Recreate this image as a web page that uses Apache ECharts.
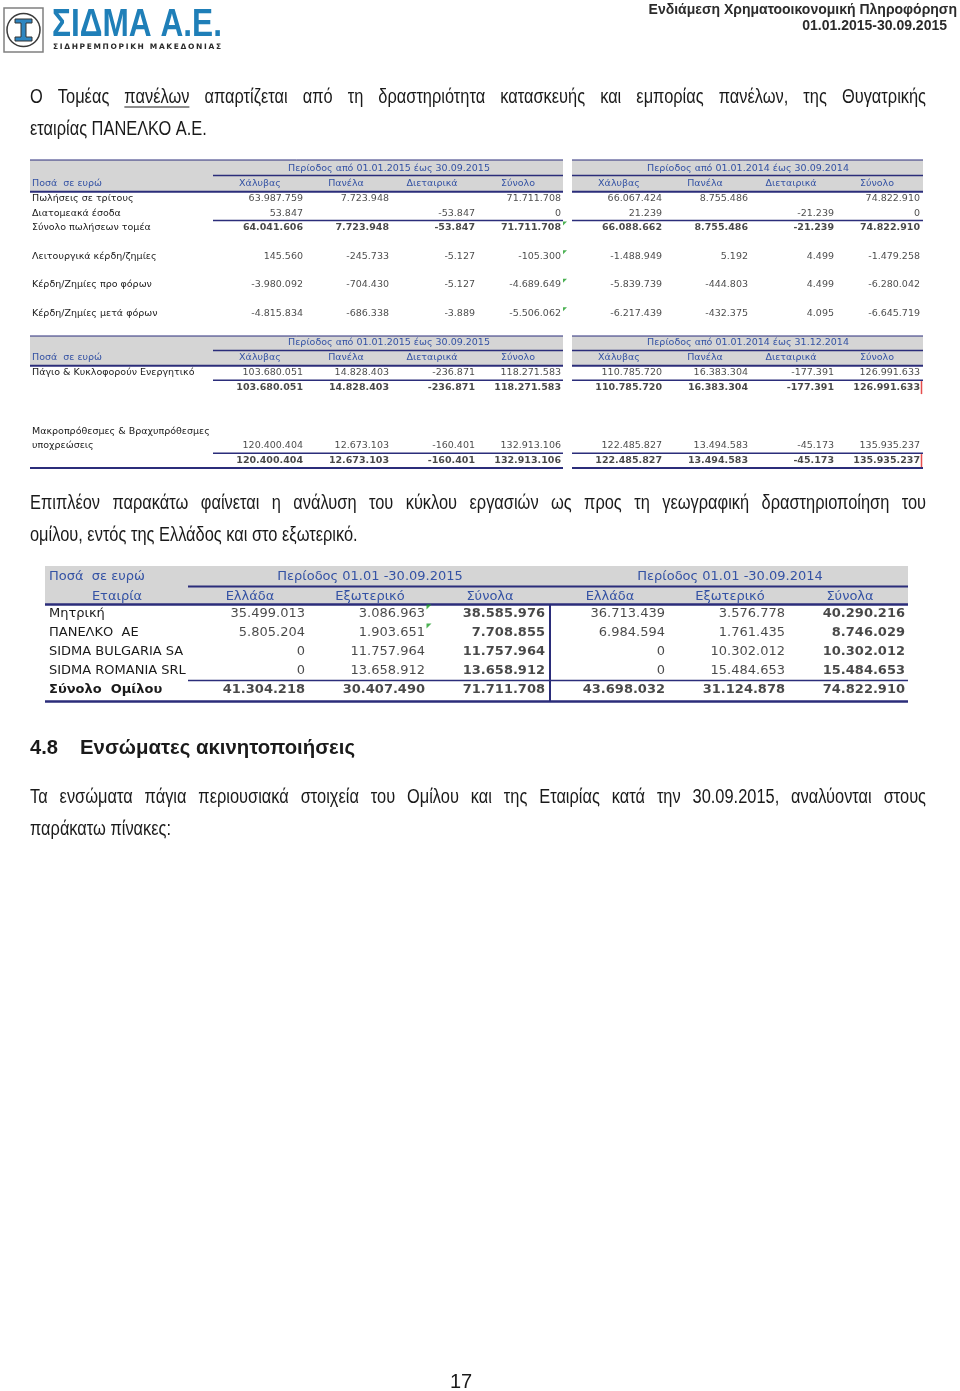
<!DOCTYPE html>
<html>
<head>
<meta charset="utf-8">
<script src="https://cdn.jsdelivr.net/npm/echarts@6.0.0/dist/echarts.min.js"></script>
<style>
html,body{margin:0;padding:0;background:#fff;}
#page{width:960px;height:1391px;}
</style>
</head>
<body>
<div id="page"></div>
<script>
// ---- table 1: segment results ----
var segCols = ['Χάλυβας', 'Πανέλα', 'Διεταιρικά', 'Σύνολο'];
var segRows = ['Πωλήσεις σε τρίτους', 'Διατομεακά έσοδα', 'Σύνολο πωλήσεων τομέα', ' ',
  'Λειτουργικά κέρδη/ζημίες', '  ', 'Κέρδη/Ζημίες προ φόρων', '   ', 'Κέρδη/Ζημίες μετά φόρων'];
var seg2015 = [
  [63987759, 7723948, null, 71711708],
  [53847, null, -53847, 0],
  [64041606, 7723948, -53847, 71711708],
  null,
  [145560, -245733, -5127, -105300],
  null,
  [-3980092, -704430, -5127, -4689649],
  null,
  [-4815834, -686338, -3889, -5506062]
];
var seg2014 = [
  [66067424, 8755486, null, 74822910],
  [21239, null, -21239, 0],
  [66088662, 8755486, -21239, 74822910],
  null,
  [-1488949, 5192, 4499, -1479258],
  null,
  [-5839739, -444803, 4499, -6280042],
  null,
  [-6217439, -432375, 4095, -6645719]
];
var segBoldRows = [2];
var segFlags = [[3, 2], [3, 4], [3, 6], [3, 8]];

// ---- table 2: assets / liabilities ----
var balRows = ['Πάγιο & Κυκλοφορούν Ενεργητικό', ' ', '  ', '   ',
  'Μακροπρόθεσμες & Βραχυπρόθεσμες', 'υποχρεώσεις', '    '];
var bal2015 = [
  [103680051, 14828403, -236871, 118271583],
  [103680051, 14828403, -236871, 118271583],
  null, null, null,
  [120400404, 12673103, -160401, 132913106],
  [120400404, 12673103, -160401, 132913106]
];
var bal2014 = [
  [110785720, 16383304, -177391, 126991633],
  [110785720, 16383304, -177391, 126991633],
  null, null, null,
  [122485827, 13494583, -45173, 135935237],
  [122485827, 13494583, -45173, 135935237]
];
var balBoldRows = [1, 6];
var balRedMarks = [[3, 1], [3, 6]];

// ---- table 3: sales by geography ----
var geoCols = ['Ελλάδα', 'Εξωτερικό', 'Σύνολα'];
var geoRows = ['Μητρική', 'ΠΑΝΕΛΚΟ  ΑΕ', 'SIDMA BULGARIA SA', 'SIDMA ROMANIA SRL', 'Σύνολο  Ομίλου'];
var geo2015 = [
  [35499013, 3086963, 38585976],
  [5805204, 1903651, 7708855],
  [0, 11757964, 11757964],
  [0, 13658912, 13658912],
  [41304218, 30407490, 71711708]
];
var geo2014 = [
  [36713439, 3576778, 40290216],
  [6984594, 1761435, 8746029],
  [0, 10302012, 10302012],
  [0, 15484653, 15484653],
  [43698032, 31124878, 74822910]
];
var geoFlags = [[1, 0], [1, 1]];

var para1 = ['Ο Τομέας πανέλων απαρτίζεται από τη δραστηριότητα κατασκευής και εμπορίας πανέλων, της Θυγατρικής',
  'εταιρίας ΠΑΝΕΛΚΟ Α.Ε.'];
var para2 = ['Επιπλέον παρακάτω φαίνεται η ανάλυση του κύκλου εργασιών ως προς τη γεωγραφική δραστηριοποίηση του',
  'ομίλου, εντός της Ελλάδος και στο εξωτερικό.'];
var para3 = ['Τα ενσώματα πάγια περιουσιακά στοιχεία του Ομίλου και της Εταιρίας κατά την 30.09.2015, αναλύονται στους',
  'παράκατω πίνακες:'];

// ---- styles ----
var ink = '#1a1a1a', hdrBlue = '#3452a4', navy = '#2b2d7a', gray = '#d5d5d5';
var tabFont = '"DejaVu Sans", Verdana, sans-serif';
var sans = '"Liberation Sans", Arial, sans-serif';
var squeeze = 0.82; // narrow look for body text

var mctx = document.createElement('canvas').getContext('2d');
function measure(t, size, weight, family) {
  mctx.font = (weight || 'normal') + ' ' + size + 'px ' + family;
  return mctx.measureText(t).width;
}
function fmt(v) {
  var s = Math.abs(v).toString().replace(/\B(?=(\d{3})+(?!\d))/g, '.');
  return (v < 0 ? '-' : '') + s;
}

var graphics = [];
function txt(t, x, y, o, sx) {
  graphics.push({type: 'text', x: x, y: y, silent: true, z: 5, scaleX: sx || 1,
    style: Object.assign({text: t, fill: ink, fontSize: 20, fontFamily: sans, verticalAlign: 'middle'}, o || {})});
}
function hline(x1, x2, y, w, c) {
  graphics.push({type: 'line', silent: true, z: 4, shape: {x1: x1, y1: y, x2: x2, y2: y},
    style: {stroke: c || navy, lineWidth: w || 1.5}});
}
function vline(x, y1, y2, w) {
  graphics.push({type: 'line', silent: true, z: 4, shape: {x1: x, y1: y1, x2: x, y2: y2},
    style: {stroke: navy, lineWidth: w || 1.5}});
}
function box(x, y, w, h) {
  graphics.push({type: 'rect', silent: true, z: -10, shape: {x: x, y: y, width: w, height: h}, style: {fill: gray}});
}
function justify(lines, x0, x1, y0, lh, size, underline) {
  lines.forEach(function (line, li) {
    var words = line.split(' ');
    var ws = words.map(function (w) { return measure(w, size, 'normal', sans) * squeeze; });
    var sum = ws.reduce(function (a, b) { return a + b; }, 0);
    var last = li === lines.length - 1;
    var gap = last ? measure(' ', size, 'normal', sans) * squeeze : (x1 - x0 - sum) / (words.length - 1);
    var x = x0, y = y0 + li * lh;
    words.forEach(function (w, i) {
      txt(w, x, y, {fontSize: size}, squeeze);
      if (underline && underline[0] === li && underline[1] === i) hline(x, x + ws[i], y + 10, 1, ink);
      x += ws[i] + gap;
    });
  });
}
function fitted(t, x0, x1, y, size, weight, color) {
  var w = measure(t, size, weight, sans);
  txt(t, x0, y, {fontSize: size, fontWeight: weight, fill: color || ink}, (x1 - x0) / w);
}
function spaced(t, x0, x1, y, size, weight, family, color) {
  var chars = t.split('');
  var ws = chars.map(function (c) { return measure(c, size, weight, family); });
  var sum = ws.reduce(function (a, b) { return a + b; }, 0);
  var gap = (x1 - x0 - sum) / (chars.length - 1), x = x0;
  chars.forEach(function (c, i) {
    txt(c, x, y, {fontSize: size, fontWeight: weight, fontFamily: family, fill: color});
    x += ws[i] + gap;
  });
}
function headerBlock(x0, x1, top, mid, bottom, midX0, period, cx, py) {
  box(x0, top, x1 - x0, bottom - top);
  hline(x0, x1, top, 1);
  hline(midX0, x1, mid, 1.5);
  hline(x0, x1, bottom, 2);
  txt(period, cx, py, {fontSize: 9.5, fontFamily: tabFont, fill: hdrBlue, align: 'center'});
}

// ---- page header / logo ----
graphics.push({type: 'rect', silent: true, shape: {x: 4, y: 8, width: 39, height: 44},
  style: {fill: '#fff', stroke: '#808080', lineWidth: 1.5}});
graphics.push({type: 'circle', silent: true, shape: {cx: 23.5, cy: 30, r: 16.5},
  style: {fill: '#fff', stroke: '#3b3b3b', lineWidth: 1.5}});
graphics.push({type: 'polygon', silent: true, shape: {points: [[15, 19], [32, 19], [32, 23], [26, 23], [26, 37], [32, 37],
  [32, 41], [15, 41], [15, 37], [21, 37], [21, 23], [15, 23]]}, style: {fill: '#2e86c1', stroke: '#333', lineWidth: 1}});
fitted('ΣΙΔΜΑ Α.Ε.', 52, 222, 25.5, 38, 'bold', '#1f7fb8');
spaced('ΣΙΔΗΡΕΜΠΟΡΙΚΗ ΜΑΚΕΔΟΝΙΑΣ', 53, 221, 47, 7.5, 'bold', tabFont, '#2a2a2a');
txt('Ενδιάμεση Χρηματοοικονομική Πληροφόρηση', 957, 10, {fontSize: 14, fontWeight: 'bold', fill: '#2b2b2b', align: 'right'});
txt('01.01.2015-30.09.2015', 947, 26, {fontSize: 14, fontWeight: 'bold', fill: '#2b2b2b', align: 'right'});

justify(para1, 30, 926, 97, 32, 20, [0, 2]);
justify(para2, 30, 926, 503, 32, 20);
fitted('4.8', 30, 58, 748, 21, 'bold');
fitted('Ενσώματες ακινητοποιήσεις', 80, 355, 748, 21, 'bold');
justify(para3, 30, 926, 797, 32, 20);
txt('17', 461, 1382, {fontSize: 20, align: 'center'});

// ---- layout of the tables ----
var t1 = {top: 191.8, rowH: 14.3}, t2 = {top: 365.7, rowH: 14.6}, t3 = {top: 604.5, rowH: 19};
var leftA = 217, leftB = 576, wAB = 344, leftC = 190, leftD = 550, wCD = 360;

headerBlock(30, 563, 160, 175.5, t1.top, 213, 'Περίοδος από 01.01.2015 έως 30.09.2015', leftA + wAB / 2, 168.5);
headerBlock(572, 923, 160, 175.5, t1.top, 572, 'Περίοδος από 01.01.2014 έως 30.09.2014', leftB + wAB / 2, 168.5);
txt('Ποσά  σε ευρώ', 32, 184, {fontSize: 9.5, fontFamily: tabFont, fill: hdrBlue});
hline(213, 563, t1.top + 2 * t1.rowH, 1.5);
hline(572, 923, t1.top + 2 * t1.rowH, 1.5);

headerBlock(30, 563, 336, 350.5, t2.top, 213, 'Περίοδος από 01.01.2015 έως 30.09.2015', leftA + wAB / 2, 343);
headerBlock(572, 923, 336, 350.5, t2.top, 572, 'Περίοδος από 01.01.2014 έως 31.12.2014', leftB + wAB / 2, 343);
txt('Ποσά  σε ευρώ', 32, 358, {fontSize: 9.5, fontFamily: tabFont, fill: hdrBlue});
[1, 6].forEach(function (r) {
  hline(213, 563, t2.top + r * t2.rowH, 1.5);
  hline(572, 923, t2.top + r * t2.rowH, 1.5);
});
hline(30, 563, t2.top + 7 * t2.rowH, 2);
hline(572, 923, t2.top + 7 * t2.rowH, 2);

box(45, 566, 863, t3.top - 566);
txt('Ποσά  σε ευρώ', 49, 577, {fontSize: 13, fontFamily: tabFont, fill: hdrBlue});
txt('Περίοδος 01.01 -30.09.2015', leftC + wCD / 2, 577, {fontSize: 13, fontFamily: tabFont, fill: hdrBlue, align: 'center'});
txt('Περίοδος 01.01 -30.09.2014', leftD + wCD / 2, 577, {fontSize: 13, fontFamily: tabFont, fill: hdrBlue, align: 'center'});
txt('Εταιρία', 117, 597, {fontSize: 13, fontFamily: tabFont, fill: hdrBlue, align: 'center'});
hline(188, 908, 586.5, 2);
hline(45, 908, t3.top, 2.5);
hline(188, 908, t3.top + 4 * t3.rowH, 1.5);
hline(45, 908, t3.top + 5 * t3.rowH + 2, 2.5);
vline(leftD, t3.top, t3.top + 5 * t3.rowH + 2, 2);

// ---- axes and cell series ----
function grid(left, top, width, rows, rowH) {
  return {left: left, top: top, width: width, height: rows * rowH};
}
function xAx(gi, cols, size, margin) {
  return {gridIndex: gi, type: 'category', data: cols, position: 'top', z: 6,
    axisLine: {show: false}, axisTick: {show: false}, splitLine: {show: false},
    axisLabel: {interval: 0, margin: margin, color: hdrBlue, fontSize: size, fontFamily: tabFont, verticalAlign: 'middle'}};
}
function yAx(gi, rows, show, size, margin, boldRow) {
  return {gridIndex: gi, type: 'category', data: rows, inverse: true, z: 6,
    axisLine: {show: false}, axisTick: {show: false}, splitLine: {show: false},
    axisLabel: {show: show, interval: 0, align: 'left', margin: margin, color: ink, fontSize: size, fontFamily: tabFont,
      formatter: function (v, i) { return i === boldRow ? '{b|' + v + '}' : v; },
      rich: {b: {fontWeight: 'bold', fontSize: size, fontFamily: tabFont, color: ink}}}};
}
function cells(gi, table, boldRows, boldCols, size, half) {
  var data = [];
  table.forEach(function (row, r) {
    if (!row) return;
    row.forEach(function (v, c) {
      if (v === null) return;
      var b = boldRows.indexOf(r) >= 0 || boldCols.indexOf(c) >= 0;
      data.push({value: [c, r, v], label: {fontWeight: b ? 'bold' : 'normal'}});
    });
  });
  return {type: 'scatter', xAxisIndex: gi, yAxisIndex: gi, symbolSize: 0, silent: true, z: 6, data: data,
    label: {show: true, position: 'inside', align: 'right', verticalAlign: 'middle', offset: [half, 0],
      color: ink, fontSize: size, fontFamily: tabFont,
      formatter: function (p) { return fmt(p.value[2]); }}};
}
function marks(gi, pts, symbol, size, offset, color) {
  return {type: 'scatter', xAxisIndex: gi, yAxisIndex: gi, silent: true, z: 7, symbol: symbol,
    symbolSize: size, symbolOffset: offset, itemStyle: {color: color}, data: pts};
}

var option = {
  animation: false,
  backgroundColor: '#fff',
  grid: [
    grid(leftA, t1.top, wAB, segRows.length, t1.rowH),
    grid(leftB, t1.top, wAB, segRows.length, t1.rowH),
    grid(leftA, t2.top, wAB, balRows.length, t2.rowH),
    grid(leftB, t2.top, wAB, balRows.length, t2.rowH),
    grid(leftC, t3.top, wCD, geoRows.length, t3.rowH),
    grid(leftD, t3.top, wCD, geoRows.length, t3.rowH)
  ],
  xAxis: [
    xAx(0, segCols, 9.5, t1.top - 184), xAx(1, segCols, 9.5, t1.top - 184),
    xAx(2, segCols, 9.5, t2.top - 358), xAx(3, segCols, 9.5, t2.top - 358),
    xAx(4, geoCols, 13, t3.top - 597), xAx(5, geoCols, 13, t3.top - 597)
  ],
  yAxis: [
    yAx(0, segRows, true, 9.5, leftA - 32, -1), yAx(1, segRows, false, 9.5, 0, -1),
    yAx(2, balRows, true, 9.5, leftA - 32, -1), yAx(3, balRows, false, 9.5, 0, -1),
    yAx(4, geoRows, true, 13, leftC - 49, 4), yAx(5, geoRows, false, 13, 0, 4)
  ],
  series: [
    cells(0, seg2015, segBoldRows, [], 9.5, wAB / 8),
    cells(1, seg2014, segBoldRows, [], 9.5, wAB / 8),
    cells(2, bal2015, balBoldRows, [], 9.5, wAB / 8),
    cells(3, bal2014, balBoldRows, [], 9.5, wAB / 8),
    cells(4, geo2015, [4], [2], 13, wCD / 6 - 5),
    cells(5, geo2014, [4], [2], 13, wCD / 6 - 5),
    marks(0, segFlags, 'path://M0,0L10,0L0,10Z', 4, [wAB / 8 + 4, -4], '#1e9e28'),
    marks(4, geoFlags, 'path://M0,0L10,0L0,10Z', 5, [wCD / 6 - 1, -7], '#1e9e28'),
    marks(3, balRedMarks, 'rect', [1.5, 13], [wAB / 8 + 1.5, 0], '#e02020')
  ],
  graphic: graphics
};

var chart = echarts.init(document.getElementById('page'));
chart.setOption(option);
window.addEventListener('resize', function () { chart.resize(); });
</script>
</body>
</html>
